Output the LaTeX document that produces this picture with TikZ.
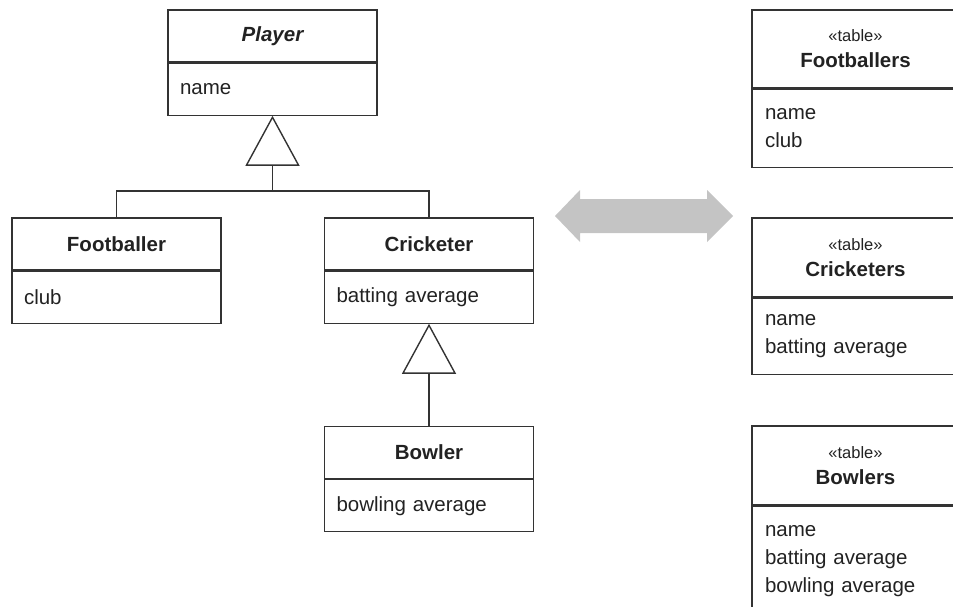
\documentclass[tikz,border=0pt]{standalone}
\usepackage{fontspec}
\setmainfont{Liberation Sans}
\usepackage{tikz}
\usetikzlibrary{positioning,arrows.meta}
\definecolor{line}{HTML}{333333}
\definecolor{txt}{HTML}{222222}
\definecolor{map}{HTML}{C4C4C4}
\newcommand{\stereo}[1]{{\fontsize{16.5}{26}\selectfont\mdseries «#1»}}
\tikzset{
  box/.style={draw=line, line width=1.2pt, inner sep=0pt, text=txt},
  clshead/.style={box, minimum width=209pt, minimum height=52pt, font=\fontsize{20.5}{26}\selectfont\bfseries},
  clsattr/.style={box, minimum width=209pt, minimum height=52pt, text width=185pt, inner xsep=12pt, align=left, font=\fontsize{20.5}{28}\selectfont},
  tabhead/.style={box, minimum width=207pt, minimum height=79pt, align=center, font=\fontsize{20.5}{26}\selectfont\bfseries},
  tabattr/.style={box, minimum width=207pt, text width=181pt, inner xsep=13pt, align=left, font=\fontsize{20.5}{28}\selectfont},
  inherit/.style={draw=line, line width=1.4pt, -{Triangle[open, length=50pt, width=54pt]}},
  link/.style={draw=line, line width=1.4pt},
}
\begin{document}
\begin{tikzpicture}[x=1pt, y=-1pt]
  \useasboundingbox (0,0) rectangle (953,606);
  \clip (0,0) rectangle (953,606);

  % class model
  \node[clshead] (player) at (272.5,36) {\itshape Player};
  \node[clsattr, below=0pt of player] (playerAttr) {name};
  \node[clshead] (footballer) at (116.5,244) {Footballer};
  \node[clsattr, below=0pt of footballer] (footballerAttr) {club};
  \node[clshead] (cricketer) at (429,244) {Cricketer};
  \node[clsattr, below=0pt of cricketer] (cricketerAttr) {batting average};
  \node[clshead] (bowler) at (429,452.5) {Bowler};
  \node[clsattr, below=0pt of bowler] (bowlerAttr) {bowling average};

  \coordinate (split) at (272.5,191);
  \draw[link] (footballer.north) |- (split);
  \draw[link] (cricketer.north) |- (split);
  \draw[inherit] (split) -- (playerAttr.south);
  \draw[inherit] (bowler.north) -- (cricketerAttr.south);

  % mapping arrow
  \coordinate (mapL) at (555,216);
  \coordinate (mapR) at (733,216);
  \fill[map] (mapL) -- ++(25,-26) -- ++(0,9) -- ++(127,0) -- ++(0,-9)
    -- (mapR) -- ++(-26,26) -- ++(0,-9) -- ++(-127,0) -- ++(0,9) -- cycle;

  % tables
  \node[tabhead, minimum height=78pt] (tFoot) at (855.5,49) {\stereo{table}\\Footballers};
  \node[tabattr, minimum height=78pt, below=0pt of tFoot] (tFootAttr) {name\\club};
  \node[tabhead] (tCrick) at (855.5,257.5) {\stereo{table}\\Cricketers};
  \node[tabattr, minimum height=76pt, below=0pt of tCrick] (tCrickAttr) {name\\batting average};
  \node[tabhead] (tBowl) at (855.5,465.5) {\stereo{table}\\Bowlers};
  \node[tabattr, minimum height=110pt, below=0pt of tBowl] (tBowlAttr) {name\\batting average\\bowling average};
\end{tikzpicture}
\end{document}
